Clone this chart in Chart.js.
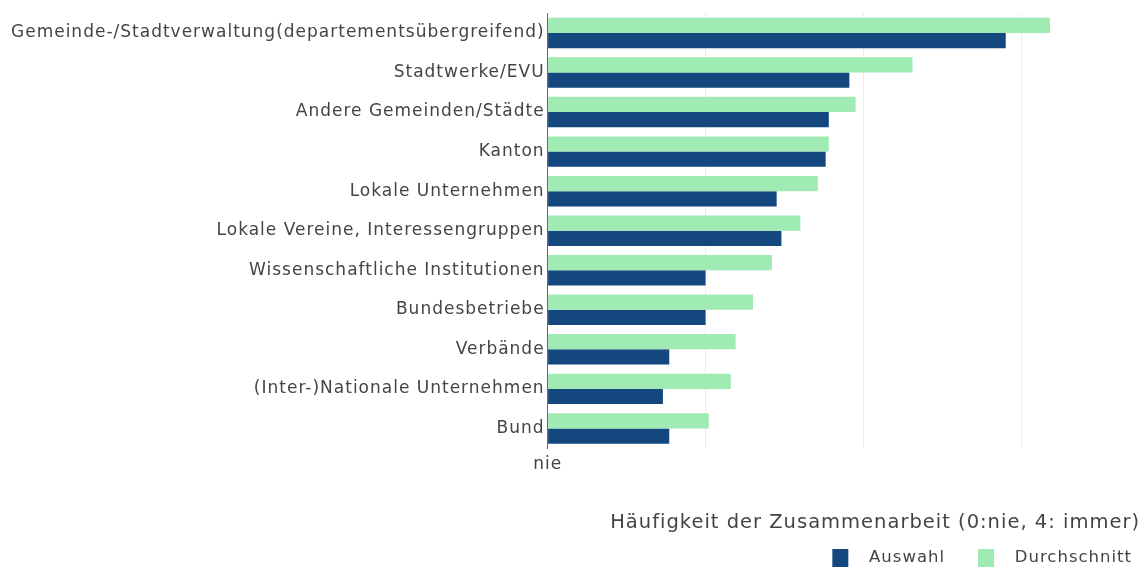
<!DOCTYPE html>
<html>
<head>
<meta charset="utf-8">
<script src="https://cdn.jsdelivr.net/npm/chart.js@4"></script>
<style>
  html, body { margin: 0; padding: 0; background: #fff; }
  #wrap { width: 1142px; height: 568px; }
</style>
</head>
<body>
<div id="wrap"><canvas id="chart"></canvas></div>
<script>
const categories = [
  'Gemeinde-/Stadtverwaltung(departementsübergreifend)',
  'Stadtwerke/EVU',
  'Andere Gemeinden/Städte',
  'Kanton',
  'Lokale Unternehmen',
  'Lokale Vereine, Interessengruppen',
  'Wissenschaftliche Institutionen',
  'Bundesbetriebe',
  'Verbände',
  '(Inter-)Nationale Unternehmen',
  'Bund'
];
const auswahl = [2.90, 1.91, 1.78, 1.76, 1.45, 1.48, 1.00, 1.00, 0.77, 0.73, 0.77];
const durchschnitt = [3.18, 2.31, 1.95, 1.78, 1.71, 1.60, 1.42, 1.30, 1.19, 1.16, 1.02];
const tickLabels = { 0: 'nie' };

Chart.defaults.font.family = '"DejaVu Sans", Verdana, sans-serif';
Chart.defaults.color = '#444';

// reference text is set a bit wider than DejaVu, so add some letter spacing
const spacing = {
  id: 'spacing',
  beforeInit: c => { c.ctx.letterSpacing = '1px'; },
  beforeUpdate: c => { c.ctx.letterSpacing = '1px'; },
  beforeLayout: c => { c.ctx.letterSpacing = '1px'; },
  beforeDraw: c => { c.ctx.letterSpacing = '1px'; }
};

const ctx = document.getElementById('chart');

new Chart(ctx, {
  type: 'bar',
  data: {
    labels: categories,
    datasets: [{
      label: 'Durchschnitt',
      data: durchschnitt,
      backgroundColor: '#a0eab4',
      barPercentage: 1,
      categoryPercentage: 0.77
    }, {
      label: 'Auswahl',
      data: auswahl,
      backgroundColor: '#13477e',
      barPercentage: 1,
      categoryPercentage: 0.77
    }]
  },
  plugins: [spacing],
  options: {
    indexAxis: 'y',
    responsive: true,
    maintainAspectRatio: false,
    animation: false,
    layout: { padding: { top: 12, right: 2, left: 8, bottom: -9 } },
    plugins: {
      tooltip: { enabled: false },
      legend: {
        position: 'bottom',
        align: 'end',
        labels: {
          boxWidth: 16,
          boxHeight: 18,
          padding: 8,
          font: { size: 16.5 },
          generateLabels: chart => {
            const items = Chart.defaults.plugins.legend.labels.generateLabels(chart).reverse();
            items.forEach((it, i) => {
              it.text = '  ' + it.text + (i === 0 ? '    ' : '');
            });
            return items;
          }
        }
      }
    },
    scales: {
      x: {
        min: 0,
        max: 3.75,
        afterBuildTicks: axis => {
          axis.ticks = [0, 1, 2, 3].map(v => ({ value: v }));
        },
        grid: { color: '#ececec', drawTicks: false },
        border: { display: false },
        ticks: {
          padding: 6,
          font: { size: 17 },
          callback: v => tickLabels[v] || ''
        },
        title: {
          display: true,
          align: 'end',
          text: 'Häufigkeit der Zusammenarbeit (0:nie, 4: immer)',
          font: { size: 19.5 },
          padding: { top: 31, bottom: 6 }
        }
      },
      y: {
        grid: { display: false, drawTicks: false },
        border: { display: true, color: '#666', width: 1 },
        ticks: { font: { size: 17 }, padding: 3, color: '#444' }
      }
    }
  }
});
</script>
</body>
</html>
